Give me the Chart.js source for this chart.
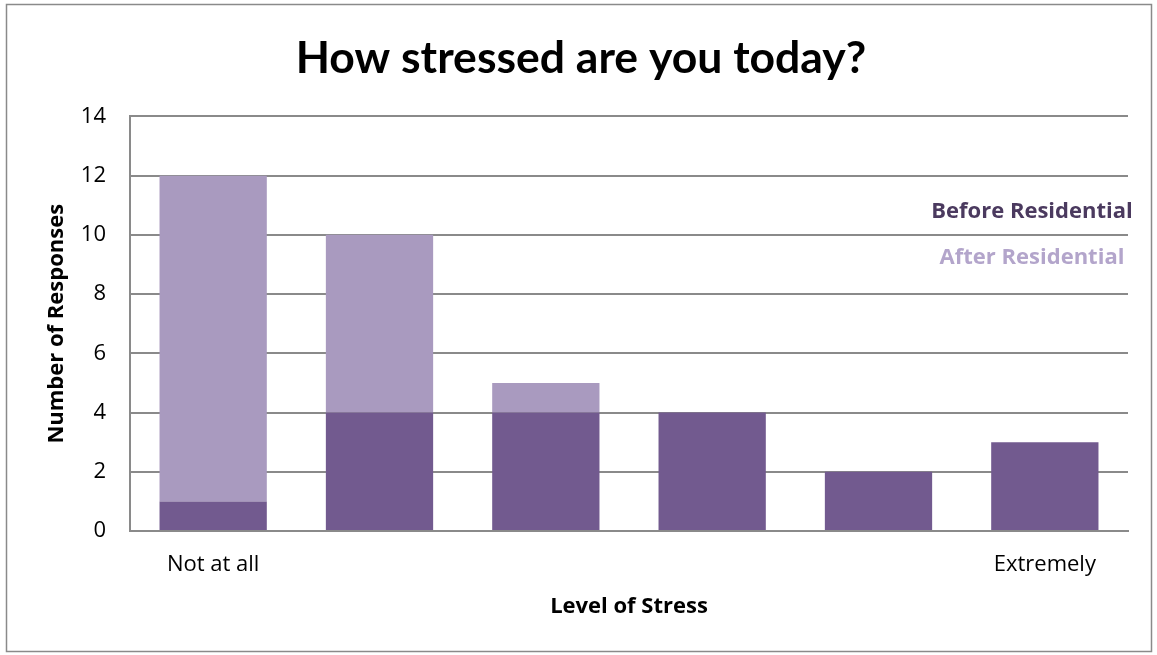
<!DOCTYPE html>
<html>
<head>
<meta charset="utf-8">
<script src="https://cdn.jsdelivr.net/npm/chart.js@4/dist/chart.umd.min.js"></script>
<style>
  html, body { margin: 0; padding: 0; background: #fff; }
  #c { display: block; }
</style>
</head>
<body>
<canvas id="c" width="1157" height="655"></canvas>
<script>
const categories = ["Not at all", "", "", "", "", "Extremely"];
const seriesNames = ["Before Residential", "After Residential"];
const beforeValues = [1, 4, 4, 4, 2, 3];
const afterValues = [11, 6, 1, 0, 0, 0];
const yTicks = [0, 2, 4, 6, 8, 10, 12, 14];

const TITLE_FONT = "Lato, 'Open Sans', sans-serif";
const FONT = "'Open Sans', Lato, sans-serif";
const darkBar = "#725a8f";
const lightBar = "#a99abf";
const legendColors = ["#4b3a5f", "#b3a5cb"];

const framePlugin = {
  id: "frame",
  beforeDraw(chart) {
    const ctx = chart.ctx;
    ctx.save();
    ctx.fillStyle = "#ffffff";
    ctx.fillRect(0, 0, chart.width, chart.height);
    ctx.strokeStyle = "#8a8a8a";
    ctx.lineWidth = 1.5;
    ctx.strokeRect(6.5, 4.5, 1145, 647);
    ctx.restore();
  }
};

const legendPlugin = {
  id: "textLegend",
  afterDraw(chart) {
    const ctx = chart.ctx;
    ctx.save();
    ctx.font = "bold 22px " + FONT;
    ctx.textAlign = "center";
    ctx.textBaseline = "middle";
    const cx = 1032;
    const ys = [212, 258];
    chart.data.datasets.forEach((ds, i) => {
      ctx.fillStyle = legendColors[i];
      ctx.fillText(ds.label, cx, ys[i]);
    });
    ctx.restore();
  }
};

new Chart(document.getElementById("c"), {
  type: "bar",
  data: {
    labels: categories,
    datasets: [
      { label: seriesNames[0], data: beforeValues, backgroundColor: darkBar, barPercentage: 0.645, categoryPercentage: 1.0 },
      { label: seriesNames[1], data: afterValues, backgroundColor: lightBar, barPercentage: 0.645, categoryPercentage: 1.0 }
    ]
  },
  options: {
    responsive: false,
    animation: false,
    layout: { padding: { left: 34, right: 29, top: 20, bottom: 20 } },
    plugins: {
      legend: { display: false },
      tooltip: { enabled: false },
      title: {
        display: true,
        text: "How stressed are you today?",
        color: "#000",
        font: { family: TITLE_FONT, size: 44.5, weight: "bold" },
        padding: { top: 12, bottom: 31 }
      }
    },
    scales: {
      x: {
        stacked: true,
        grid: { display: false, drawTicks: false },
        border: { display: true, color: "#8a8a8a", width: 2 },
        ticks: { color: "#000", font: { family: FONT, size: 22 }, padding: 21, maxRotation: 0, autoSkip: false },
        title: { display: true, text: "Level of Stress", color: "#000", font: { family: FONT, size: 22, weight: "bold" }, padding: { top: 10, bottom: 15 } },
        afterFit(scale) { scale.height = 104; }
      },
      y: {
        stacked: true,
        min: 0,
        max: 14,
        afterBuildTicks(scale) { scale.ticks = yTicks.map(v => ({ value: v })); },
        grid: { color: "#8a8a8a", lineWidth: 2, drawTicks: false },
        border: { display: true, color: "#8a8a8a", width: 2 },
        ticks: { color: "#000", font: { family: FONT, size: 22 }, padding: 24 },
        title: { display: true, text: "Number of Responses", color: "#000", font: { family: FONT, size: 22, weight: "bold" }, padding: { top: 10, bottom: 0 } },
        afterFit(scale) { scale.width = 96; }
      }
    }
  },
  plugins: [framePlugin, legendPlugin]
});
</script>
</body>
</html>
